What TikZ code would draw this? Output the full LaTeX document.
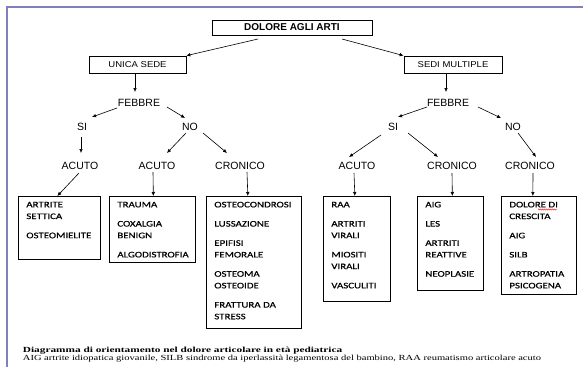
\documentclass[tikz,border=0pt]{standalone}
\usepackage{fontspec}
\setmainfont{Liberation Serif}
\newfontfamily\etichettafont{Liberation Sans}
\newfontfamily\sedefont[FakeStretch=1.12]{Liberation Sans}
\newfontfamily\elencofont[FakeStretch=1.28, FakeBold=0.5]{Carlito}
\newfontfamily\didascaliafont[FakeStretch=1.35]{Liberation Serif}
\newfontfamily\titolofont[FakeStretch=1.45]{Liberation Serif}
\usetikzlibrary{arrows.meta,decorations.pathmorphing}
\definecolor{cornicecolore}{RGB}{128,128,190}

\newcommand{\voci}[3]{\parbox[t][#2][t]{#1}{\raggedright #3}}

\tikzset{
  cornice/.style={draw=cornicecolore, line width=1.3pt},
  radice/.style={draw, line width=0.7pt, minimum width=160pt, minimum height=15pt, inner sep=0pt,
    font=\fontsize{10}{12}\etichettafont\bfseries},
  sede/.style={draw, line width=0.7pt, minimum width=97pt, minimum height=17pt, inner sep=0pt,
    font=\fontsize{8.5}{10}\sedefont},
  livello/.style={inner sep=0pt, font=\fontsize{10.5}{12}\etichettafont},
  elenco/.style={draw, line width=0.7pt, anchor=north west, inner xsep=8pt, inner ysep=5.5pt,
    font=\fontsize{8.5}{11.7}\elencofont},
  freccia/.style={-{Latex[length=4pt,width=3.6pt]}, line width=0.6pt},
  didascalia/.style={inner sep=0pt, anchor=base west}
}

\begin{document}
\begin{tikzpicture}[x=1pt, y=-1pt]
  \useasboundingbox (0,0) rectangle (583,367);
  \draw[cornice] (7,367) -- (7,7) -- (583,7);

  % radice e sedi
  \node[radice] (dolore) at (292,27.5) {DOLORE AGLI ARTI};
  \node[sede] (unica) at (137.5,64.5) {UNICA SEDE};
  \node[sede, minimum width=98pt] (sedi) at (453,64.5) {SEDI MULTIPLE};

  % unica sede
  \node[livello] (febbreA) at (139,103) {FEBBRE};
  \node[livello] (siA) at (82,127) {SI};
  \node[livello] (noA) at (190,127) {NO};
  \node[livello] (acutoA) at (80,166) {ACUTO};
  \node[livello] (acutoB) at (157,166) {ACUTO};
  \node[livello] (cronicoA) at (240,166) {CRONICO};

  % sedi multiple
  \node[livello] (febbreB) at (448,103) {FEBBRE};
  \node[livello] (siB) at (393,127) {SI};
  \node[livello] (noB) at (513,127) {NO};
  \node[livello] (acutoC) at (357,166) {ACUTO};
  \node[livello] (cronicoB) at (452,166) {CRONICO};
  \node[livello] (cronicoC) at (530,166) {CRONICO};

  % elenchi
  \node[elenco] (artrite) at (18,196) {\voci{66pt}{52pt}{ARTRITE\\SETTICA\\[7.5pt]OSTEOMIELITE}};
  \node[elenco] (trauma) at (109,196) {\voci{70pt}{55pt}{TRAUMA\\[7.5pt]COXALGIA\\BENIGN\\[7.5pt]ALGODISTROFIA}};
  \node[elenco] (osteo) at (206,196) {\voci{79pt}{121pt}{OSTEOCONDROSI\\[7.5pt]LUSSAZIONE\\[7.5pt]EPIFISI\\FEMORALE\\[7.5pt]OSTEOMA\\OSTEOIDE\\[7.5pt]FRATTURA DA\\STRESS}};
  \node[elenco] (raa) at (323,196) {\voci{51pt}{94pt}{RAA\\[7.5pt]ARTRITI\\VIRALI\\[7.5pt]MIOSITI\\VIRALI\\[7.5pt]VASCULITI}};
  \node[elenco] (aig) at (417,196) {\voci{50pt}{83pt}{AIG\\[7.5pt]LES\\[7.5pt]ARTRITI\\REATTIVE\\[7.5pt]NEOPLASIE}};
  \node[elenco] (crescita) at (501,196) {\voci{59pt}{87pt}{DOLORE DI\\CRESCITA\\[7.5pt]AIG\\[7.5pt]SILB\\[7.5pt]ARTROPATIA\\PSICOGENA}};
  \draw[red, line width=0.4pt, decorate, decoration={snake, amplitude=0.6pt, segment length=2pt}]
    ([shift={(37,13.5)}]crescita.north west) -- ++(19,0);

  % frecce
  \draw[freccia] ([shift={(-34,11.5)}]dolore.center) -- (unica.north east);
  \draw[freccia] ([shift={(50,11.5)}]dolore.center) -- (sedi.north west);

  \draw[freccia] ([xshift=-2.5pt]unica.south) -- ([shift={(-4,-11)}]febbreA.center);
  \draw[freccia] ([shift={(-22,5)}]febbreA.center) -- ([shift={(10,-10)}]siA.center);
  \draw[freccia] ([shift={(28,4)}]febbreA.center) -- ([shift={(-5,-9)}]noA.center);
  \draw[freccia] ([shift={(-1,10)}]siA.center) -- ([shift={(1,-13)}]acutoA.center);
  \draw[freccia] ([shift={(-4,6)}]noA.center) -- ([shift={(10,-13)}]acutoB.center);
  \draw[freccia] ([shift={(13,6)}]noA.center) -- ([shift={(-13,-13)}]cronicoA.center);
  \draw[freccia] ([shift={(-1,7)}]acutoA.center) -- ([xshift=-2pt]artrite.north);
  \draw[freccia] ([shift={(-4,6)}]acutoB.center) -- ([xshift=1pt]trauma.north);
  \draw[freccia] ([shift={(7,6)}]cronicoA.center) -- ([xshift=-6pt]osteo.north);

  \draw[freccia] ([xshift=-7pt]sedi.south) -- ([shift={(-2,-11)}]febbreB.center);
  \draw[freccia] ([shift={(-21,4)}]febbreB.center) -- ([shift={(5,-10)}]siB.center);
  \draw[freccia] ([shift={(30,4)}]febbreB.center) -- ([shift={(-12,-9)}]noB.center);
  \draw[freccia] ([shift={(-12,8)}]siB.center) -- ([shift={(-8,-9)}]acutoC.center);
  \draw[freccia] ([shift={(15,6)}]siB.center) -- ([shift={(-14,-9)}]cronicoB.center);
  \draw[freccia] ([shift={(5,6)}]noB.center) -- ([shift={(6,-9)}]cronicoC.center);
  \draw[freccia] ([shift={(-3,7)}]acutoC.center) -- ([xshift=-2pt]raa.north);
  \draw[freccia] ([shift={(0,7)}]cronicoB.center) -- ([xshift=2pt]aig.north);
  \draw[freccia] ([shift={(3,7)}]cronicoC.center) -- ([xshift=-6pt]crescita.north);

  % didascalia
  \node[didascalia, font=\fontsize{7.8}{8}\titolofont\bfseries] (titolo) at (22.7,352.5)
    {Diagramma di orientamento nel dolore articolare in età pediatrica};
  \node[didascalia, font=\fontsize{7.8}{8}\didascaliafont] (legenda) at (22.7,360)
    {AIG artrite idiopatica giovanile, SILB sindrome da iperlassità legamentosa del bambino, RAA reumatismo articolare acuto};
\end{tikzpicture}
\end{document}
